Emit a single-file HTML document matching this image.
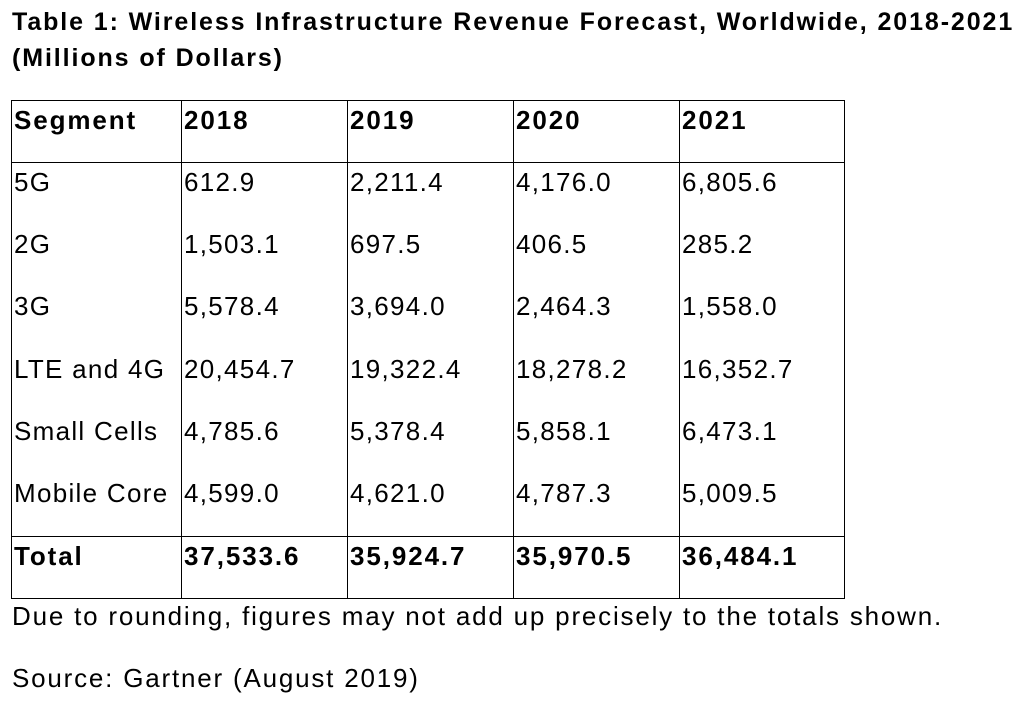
<!DOCTYPE html>
<html><head><meta charset="utf-8"><style>
body{margin:0;width:1027px;height:701px;background:#fff;font-family:"Liberation Sans",sans-serif;color:#000;position:relative;overflow:hidden}
.title{position:absolute;left:12px;top:4px;font-weight:bold;font-size:25px;line-height:36px;letter-spacing:1.9px;white-space:nowrap}
table{position:absolute;left:11px;top:100px;border-collapse:collapse;font-size:26px;letter-spacing:1.3px;table-layout:fixed;width:833px}
td{border-left:1px solid #000;border-right:1px solid #000;padding:4px 0 0 2px;height:58px;box-sizing:border-box;vertical-align:top;white-space:nowrap;overflow:visible}
tr{height:62.3px}
tr.h td,tr.t td{font-weight:bold;letter-spacing:1.9px;border-top:1px solid #000;border-bottom:1px solid #000}
.note{position:absolute;left:12px;font-size:26px;letter-spacing:1.8px;white-space:nowrap}
</style></head><body>
<div class="title">Table 1: Wireless Infrastructure Revenue Forecast, Worldwide, 2018-2021<br>(Millions of Dollars)</div>
<table>
<colgroup><col style="width:170px"><col style="width:166px"><col style="width:166px"><col style="width:166px"><col style="width:165px"></colgroup>
<tr class="h"><td>Segment</td><td>2018</td><td>2019</td><td>2020</td><td>2021</td></tr>
<tr><td>5G</td><td>612.9</td><td>2,211.4</td><td>4,176.0</td><td>6,805.6</td></tr>
<tr><td>2G</td><td>1,503.1</td><td>697.5</td><td>406.5</td><td>285.2</td></tr>
<tr><td>3G</td><td>5,578.4</td><td>3,694.0</td><td>2,464.3</td><td>1,558.0</td></tr>
<tr><td>LTE and 4G</td><td>20,454.7</td><td>19,322.4</td><td>18,278.2</td><td>16,352.7</td></tr>
<tr><td>Small Cells</td><td>4,785.6</td><td>5,378.4</td><td>5,858.1</td><td>6,473.1</td></tr>
<tr><td>Mobile Core</td><td>4,599.0</td><td>4,621.0</td><td>4,787.3</td><td>5,009.5</td></tr>
<tr class="t"><td>Total</td><td>37,533.6</td><td>35,924.7</td><td>35,970.5</td><td>36,484.1</td></tr>
</table>
<div class="note" style="top:601px">Due to rounding, figures may not add up precisely to the totals shown.</div>
<div class="note" style="top:663px">Source: Gartner (August 2019)</div>
</body></html>
